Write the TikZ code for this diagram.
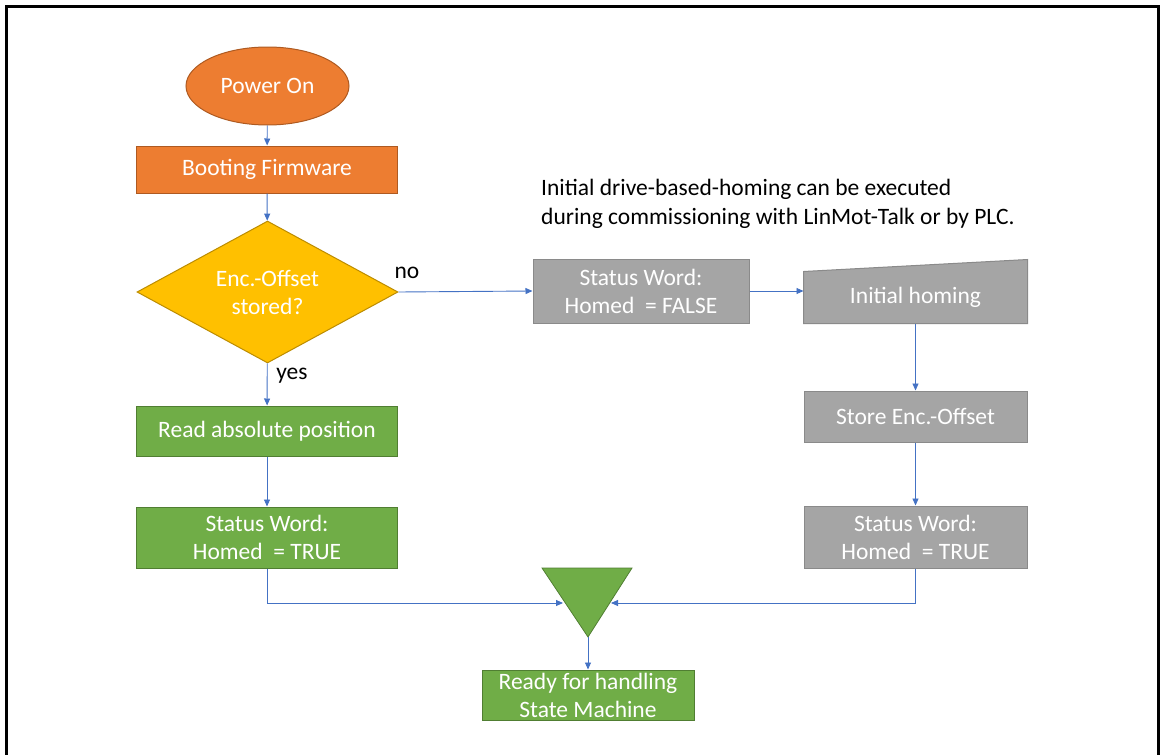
\documentclass[tikz,border=0pt]{standalone}
\usepackage{fontspec}
\setmainfont{Carlito}
\usepackage{tikz}
\usetikzlibrary{arrows.meta}
\usetikzlibrary{shapes.geometric}
\usetikzlibrary{backgrounds}
\definecolor{orgfill}{HTML}{ED7D31}
\definecolor{orgline}{HTML}{AE5A21}
\definecolor{yelfill}{HTML}{FFC000}
\definecolor{yelline}{HTML}{BC8C00}
\definecolor{grnfill}{HTML}{70AD47}
\definecolor{grnline}{HTML}{507E32}
\definecolor{gryfill}{HTML}{A5A5A5}
\definecolor{gryline}{HTML}{8A8A8A}
\definecolor{flowblue}{HTML}{4472C4}
\tikzset{>={Triangle[length=7pt,width=6pt]}}
\tikzset{
  box/.style = {rectangle, inner sep=0pt, line width=1pt, text=white, align=center,
                font=\fontsize{23.5}{28}\selectfont},
  orgbox/.style = {box, fill=orgfill, draw=orgline},
  grnbox/.style = {box, fill=grnfill, draw=grnline},
  grybox/.style = {box, fill=gryfill, draw=gryline},
  flow/.style = {->, draw=flowblue, line width=0.9pt},
  lbl/.style = {inner sep=0pt, font=\fontsize{23.5}{29}\selectfont}
}

\begin{document}
\begin{tikzpicture}[x=1pt, y=-1pt]
\useasboundingbox (0,0) rectangle (1160,755);
\draw [line width=3pt] (6,755) -- (6,6) -- (1158,6) -- (1158,755);

% left column
\node [box, ellipse, fill=orgfill, draw=orgline, minimum width=163, minimum height=78] (pwr) at (267.5, 86) {Power On};
\node [orgbox, minimum width=261, minimum height=47] (boot) at (267, 169.5) {Booting Firmware};
\node [box, diamond, aspect=1.84, fill=yelfill, draw=yelline, minimum width=261, minimum height=142] (enc) at (267.5, 292) {Enc.-Offset\\stored?};
\node [grnbox, minimum width=261, minimum height=50] (rd) at (267, 431) {Read absolute position};
\node [grnbox, minimum width=261, minimum height=61] (stL) at (267, 537.5) {Status Word:\\Homed~ = TRUE};

% right column
\node [grybox, minimum width=216, minimum height=64] (fw) at (641, 291) {Status Word:\\Homed~ = FALSE};
\node [box, minimum width=223, minimum height=51] (ih) at (915.5, 297.5) {Initial homing};
\begin{pgfonlayer}{background}
\filldraw [fill=gryfill, draw=gryline, line width=1pt] (ih.south west) -- (ih.south east) -- ([yshift=12pt]ih.north east) -- (ih.north west) -- cycle;
\end{pgfonlayer}
\node [grybox, minimum width=223, minimum height=51] (so) at (915.5, 416.5) {Store Enc.-Offset};
\node [grybox, minimum width=223, minimum height=62] (stR) at (915.5, 537) {Status Word:\\Homed~ = TRUE};

% merge and end
\coordinate (mgA) at (542, 568);
\coordinate (mgB) at (632, 568);
\coordinate (mgC) at (588, 637);
\coordinate (mgL) at (563, 603);
\coordinate (mgR) at (611, 603);
\filldraw [fill=grnfill, draw=grnline, line width=0.8pt] (mgA) -- (mgB) -- (mgC) -- cycle;
\node [grnbox, minimum width=212, minimum height=50] (rdy) at (588, 695) {Ready for handling\\State Machine};

\node [lbl, anchor=west, align=left] (note) at (541, 203.5) {Initial drive-based-homing can be executed\\during commissioning with LinMot-Talk or by PLC.};
\node [lbl] (no) at (407, 273) {no};
\node [lbl] (yes) at (292, 376) {yes};

\draw [flow] (pwr) -- (boot);
\draw [flow] (boot) -- (enc);
\draw [flow] (enc) -- (rd);
\draw [flow] (rd) -- (stL);
\draw [flow] (enc.east) -- (fw.west);
\draw [flow] (fw.east) -- (fw.east -| ih.west);
\draw [flow] (ih) -- (so);
\draw [flow] (so) -- (stR);
\draw [flow] (stL.south) |- (mgL);
\draw [flow] (stR.south) |- (mgR);
\draw [flow] (mgC) -- (rdy);
\end{tikzpicture}
\end{document}
